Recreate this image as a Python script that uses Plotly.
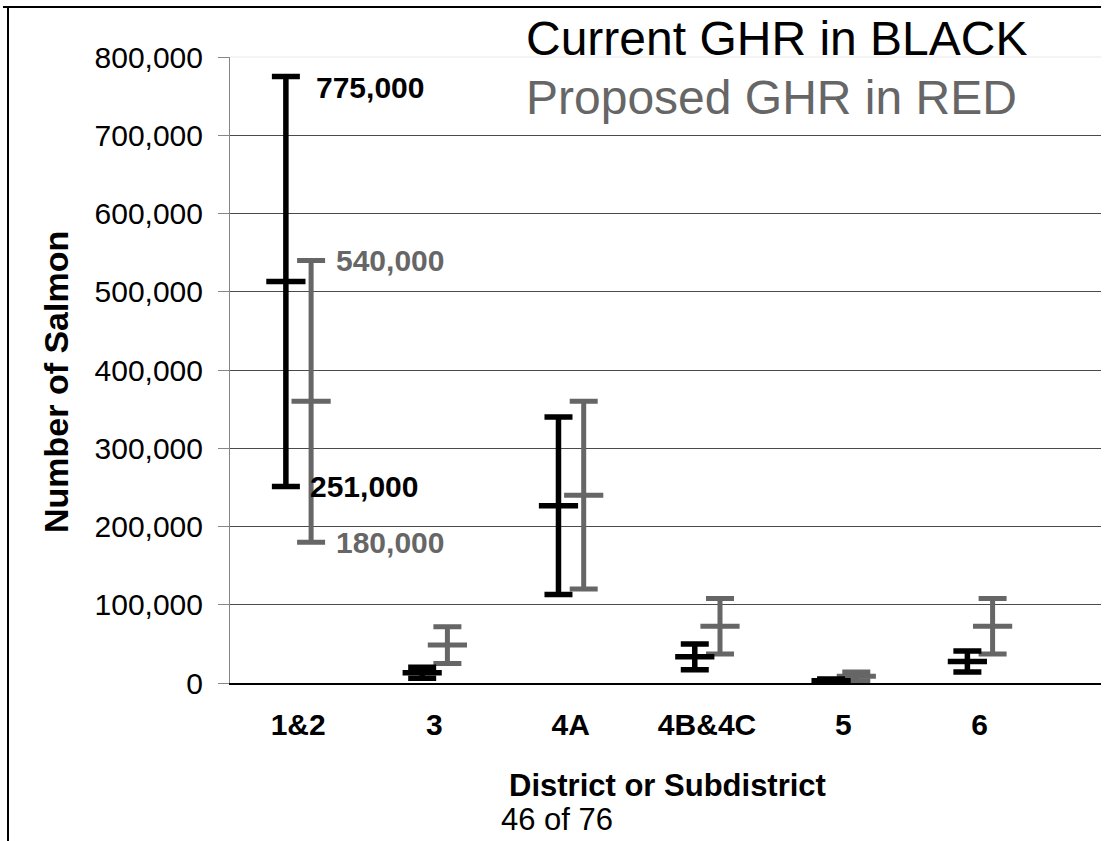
import plotly.graph_objects as go

# ---------------- data ----------------
categories = ["1&2", "3", "4A", "4B&4C", "5", "6"]
current_low = [251000, 6000, 113000, 17000, 500, 14000]
current_high = [775000, 20000, 340000, 50000, 5000, 41000]
proposed_low = [180000, 25000, 120000, 37000, 3000, 37000]
proposed_high = [540000, 72000, 360000, 108000, 14000, 108000]
y_ticks = [0, 100000, 200000, 300000, 400000, 500000, 600000, 700000, 800000]

BLACK = "#000000"
GRAY = "#666666"
FONT = "Liberation Sans"

# ---------------- geometry ----------------
W, H = 1105, 841
L, R, T, B = 230, 4, 57, 158
PW, PH = W - L - R, H - T - B
BASE = H - B


def px_x(px):
    return (px - L) / PW


def px_y(py):
    return (BASE - py) / PH


def series(low, high, offset, color, name, thick):
    xs = [i + offset for i in range(len(low))]
    mids = [(lo + hi) / 2 for lo, hi in zip(low, high)]
    return go.Scatter(
        x=xs, y=mids, mode="markers", name=name,
        marker=dict(symbol="line-ew", size=28, color=color,
                    line=dict(width=thick, color=color)),
        error_y=dict(type="data", symmetric=False,
                     array=[hi - m for hi, m in zip(high, mids)],
                     arrayminus=[m - lo for lo, m in zip(low, mids)],
                     color=color, thickness=thick, width=14),
        hoverinfo="skip", showlegend=False,
    )


fig = go.Figure()
# invisible trace to activate yaxis2 gridlines
fig.add_trace(go.Scatter(x=[None], y=[None], yaxis="y2", showlegend=False, hoverinfo="skip"))
fig.add_trace(series(proposed_low, proposed_high, 0.095, GRAY, "Proposed GHR", 5))
fig.add_trace(series(current_low, current_high, -0.09, BLACK, "Current GHR", 5.5))

ann = []
# value labels for district 1&2
ann.append(dict(x=-0.09, y=current_high[0], xref="x", yref="y", text=f"{current_high[0]:,}",
                xanchor="left", yanchor="middle", xshift=28, yshift=-11, showarrow=False,
                font=dict(family=FONT, size=30, color=BLACK, weight="bold")))
ann.append(dict(x=-0.09, y=current_low[0], xref="x", yref="y", text=f"{current_low[0]:,}",
                xanchor="left", yanchor="middle", xshift=22, showarrow=False,
                font=dict(family=FONT, size=30, color=BLACK, weight="bold")))
ann.append(dict(x=0.095, y=proposed_high[0], xref="x", yref="y", text=f"{proposed_high[0]:,}",
                xanchor="left", yanchor="middle", xshift=23, showarrow=False,
                font=dict(family=FONT, size=30, color=GRAY, weight="bold")))
ann.append(dict(x=0.095, y=proposed_low[0], xref="x", yref="y", text=f"{proposed_low[0]:,}",
                xanchor="left", yanchor="middle", xshift=23, showarrow=False,
                font=dict(family=FONT, size=30, color=GRAY, weight="bold")))

# legend-like titles
ann.append(dict(x=px_x(524), y=px_y(38), xref="paper", yref="paper", text="Current GHR in BLACK",
                xanchor="left", yanchor="middle", showarrow=False,
                font=dict(family=FONT, size=48, color=BLACK)))
ann.append(dict(x=px_x(524), y=px_y(97), xref="paper", yref="paper", text="Proposed GHR in RED",
                xanchor="left", yanchor="middle", showarrow=False,
                font=dict(family=FONT, size=48, color=GRAY)))

# axis titles
ann.append(dict(x=px_x(56), y=px_y(382), xref="paper", yref="paper", text="Number of Salmon",
                textangle=-90, xanchor="center", yanchor="middle", showarrow=False,
                font=dict(family=FONT, size=34, color=BLACK, weight="bold")))
ann.append(dict(x=px_x(667), y=px_y(785), xref="paper", yref="paper", text="District or Subdistrict",
                xanchor="center", yanchor="middle", showarrow=False, borderpad=0,
                font=dict(family=FONT, size=31, color=BLACK, weight="bold")))
ann.append(dict(x=px_x(557), y=px_y(820), xref="paper", yref="paper", text="46 of 76",
                xanchor="center", yanchor="middle", showarrow=False, borderpad=0,
                font=dict(family=FONT, size=31, color=BLACK)))

shapes = [
    # page border (top and left)
    dict(type="line", xref="paper", yref="paper", x0=px_x(3), x1=px_x(1101), y0=px_y(7), y1=px_y(7),
         line=dict(color="#000000", width=2)),
    dict(type="line", xref="paper", yref="paper", x0=px_x(8), x1=px_x(8), y0=px_y(7), y1=px_y(841),
         line=dict(color="#000000", width=2)),
    # faint top of plot area
    dict(type="line", xref="paper", yref="paper", x0=0, x1=1, y0=1, y1=1,
         line=dict(color="#e8e8e8", width=1)),
]

fig.update_layout(
    width=W, height=H,
    margin=dict(l=L, r=R, t=T, b=B),
    paper_bgcolor="white", plot_bgcolor="white",
    annotations=ann, shapes=shapes,
    xaxis=dict(range=[-0.5, (PW / 136.3) - 0.5], tickvals=list(range(len(categories))),
               ticktext=categories, showgrid=False, zeroline=False,
               showline=True, linecolor="#000000", linewidth=1.5, ticks="",
               ticklabelstandoff=14,
               tickfont=dict(family=FONT, size=30, color=BLACK, weight="bold")),
    yaxis=dict(range=[0, 800000], tickvals=y_ticks,
               ticktext=[f"{v:,}" for v in y_ticks], showgrid=False, zeroline=False,
               showline=True, linecolor="#868686", linewidth=1,
               ticks="outside", ticklen=11, tickcolor="#868686",
               ticklabelstandoff=9,
               tickfont=dict(family=FONT, size=30, color=BLACK)),
    yaxis2=dict(range=[0, 800000], overlaying="y", tickvals=y_ticks[1:-1],
                showgrid=True, gridcolor="#4a4a4a", gridwidth=1,
                showticklabels=False, zeroline=False, showline=False, ticks=""),
)

fig.write_html("out.html", config={"displayModeBar": False},
               post_script="document.body.style.margin='0';")
